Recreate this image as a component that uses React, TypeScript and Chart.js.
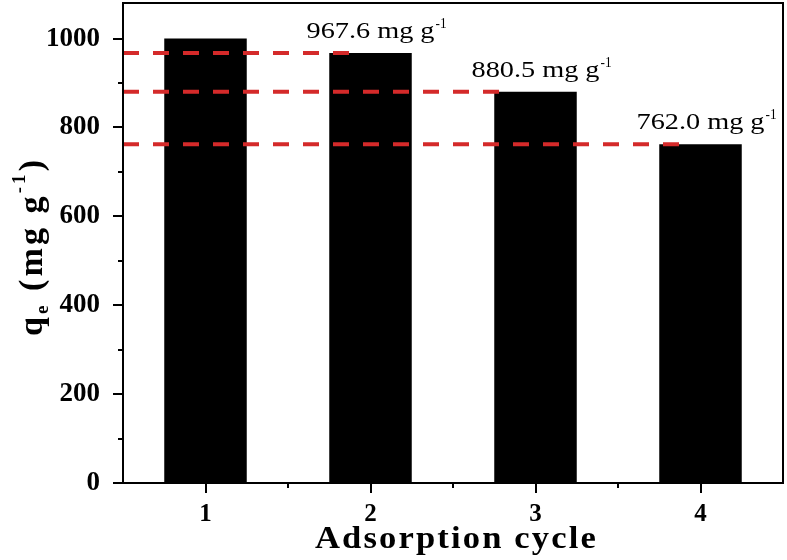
import React, { useEffect, useRef } from "react";
import { Chart, registerables } from "chart.js";

Chart.register(...registerables);

const cycles = [1, 2, 3, 4];
const capacity = [1000, 967.6, 880.5, 762.0];
const refLevels = [967.6, 880.5, 762.0];
const refLineEnds = [1.92, 2.86, 3.95];
const annotValues = ["967.6", "880.5", "762.0"];
const annotCycles = [2, 3, 4];
const yMajorTicks = [0, 200, 400, 600, 800, 1000];
const yMinorTicks = [100, 300, 500, 700, 900];
const xMinorTicks = [1.5, 2.5, 3.5];

const SERIF = '"Liberation Serif", "Times New Roman", serif';

// draw a string with per-character spacing so that it spans targetW
function drawSpaced(ctx: any, parts: [string, string, number][], targetW: number) {
  let natural = 0;
  let n = 0;
  for (const [t, f] of parts) {
    ctx.font = f;
    natural += ctx.measureText(t).width;
    n += t.length;
  }
  const sp = (targetW - natural) / Math.max(1, n - 1);
  let x = 0;
  for (const [t, f, dy] of parts) {
    ctx.font = f;
    for (const ch of t) {
      ctx.fillText(ch, x, dy);
      x += ctx.measureText(ch).width + sp;
    }
  }
}

const decorPlugin = {
  id: "decor",
  afterDraw(chart: any) {
    const ctx = chart.ctx;
    const { left, right, top, bottom } = chart.chartArea;
    const xs = chart.scales.x;
    const ys = chart.scales.y;
    ctx.save();
    // frame
    ctx.strokeStyle = "#000";
    ctx.lineWidth = 2;
    ctx.strokeRect(left, top, right - left, bottom - top);
    // ticks
    ctx.beginPath();
    for (const v of yMajorTicks) {
      const y = Math.round(ys.getPixelForValue(v));
      ctx.moveTo(left, y);
      ctx.lineTo(left - 10, y);
    }
    for (const v of yMinorTicks) {
      const y = Math.round(ys.getPixelForValue(v));
      ctx.moveTo(left, y);
      ctx.lineTo(left - 5, y);
    }
    for (const v of cycles) {
      const x = Math.round(xs.getPixelForValue(v));
      ctx.moveTo(x, bottom);
      ctx.lineTo(x, bottom + 10);
    }
    for (const v of xMinorTicks) {
      const x = Math.round(xs.getPixelForValue(v));
      ctx.moveTo(x, bottom);
      ctx.lineTo(x, bottom + 5);
    }
    ctx.stroke();

    // annotations
    ctx.fillStyle = "#000";
    ctx.textBaseline = "alphabetic";
    ctx.textAlign = "left";
    annotValues.forEach((txt, i) => {
      const main = txt + " mg g";
      const x0 = xs.getPixelForValue(annotCycles[i]) - 64;
      const by = ys.getPixelForValue(refLevels[i]) - 15;
      ctx.font = `23px ${SERIF}`;
      const w = ctx.measureText(main).width;
      ctx.save();
      ctx.translate(x0, by);
      ctx.scale(128 / w, 1);
      ctx.fillText(main, 0, 0);
      ctx.restore();
      ctx.save();
      ctx.translate(x0 + 129, by - 10);
      ctx.font = `14px ${SERIF}`;
      const ws = ctx.measureText("-1").width;
      ctx.scale(11 / ws, 1);
      ctx.fillText("-1", 0, 0);
      ctx.restore();
    });
    ctx.restore();

    // x title
    ctx.save();
    ctx.fillStyle = "#000";
    ctx.textBaseline = "alphabetic";
    ctx.textAlign = "left";
    ctx.translate(315, 548);
    ctx.scale(1.08, 1);
    drawSpaced(ctx, [["Adsorption cycle", `bold 32px ${SERIF}`, 0]], 283 / 1.08 - 2);
    ctx.restore();

    // y title (rotated)
    ctx.save();
    ctx.fillStyle = "#000";
    ctx.textBaseline = "alphabetic";
    ctx.textAlign = "left";
    ctx.translate(42, 336);
    ctx.rotate(-Math.PI / 2);
    const bigF = `bold 34px ${SERIF}`;
    const smallF = `bold 19px ${SERIF}`;
    drawSpaced(
      ctx,
      [
        ["q", bigF, 0],
        ["e", smallF, 6],
        [" (mg g", bigF, 0],
        ["-1", smallF, -17],
        [")", bigF, 0],
      ],
      176
    );
    ctx.restore();
  },
};

export default function App() {
  const ref = useRef<HTMLCanvasElement>(null);
  useEffect(() => {
    document.body.style.margin = "0";
    const canvas = ref.current!;
    const lineSets = refLevels.map((lv, i) => ({
      type: "line" as const,
      data: [
        { x: 0.5, y: lv },
        { x: refLineEnds[i], y: lv },
      ],
      borderColor: "#d42a2a",
      borderWidth: 4,
      borderDash: [16, 14],
      pointRadius: 0,
      fill: false,
      order: 0,
    }));
    const chart = new Chart(canvas, {
      type: "bar",
      data: {
        datasets: [
          {
            type: "bar",
            data: cycles.map((c, i) => ({ x: c, y: capacity[i] })),
            backgroundColor: "#000",
            borderWidth: 0,
            barPercentage: 0.5,
            categoryPercentage: 1,
            order: 1,
          } as any,
          ...lineSets,
        ],
      },
      options: {
        responsive: false,
        animation: false,
        layout: { padding: { top: 3, right: 4, left: 0, bottom: 0 } },
        plugins: {
          legend: { display: false },
          tooltip: { enabled: false },
        },
        scales: {
          x: {
            type: "linear",
            min: 0.5,
            max: 4.5,
            offset: false,
            grid: { display: false, offset: false },
            border: { display: false },
            afterBuildTicks: (s: any) => {
              s.ticks = cycles.map((v) => ({ value: v }));
            },
            afterFit: (s: any) => {
              s.height = 77;
              s.paddingLeft = 0;
              s.paddingRight = 0;
            },
            ticks: {
              padding: 9,
              color: "#000",
              font: { family: SERIF, size: 25, weight: "bold" },
              callback: (v: any) => String(v),
            },
          },
          y: {
            type: "linear",
            min: 0,
            max: 1080,
            grid: { display: false },
            border: { display: false },
            afterBuildTicks: (s: any) => {
              s.ticks = yMajorTicks.map((v) => ({ value: v }));
            },
            afterFit: (s: any) => {
              s.width = 123;
              s.paddingTop = 0;
              s.paddingBottom = 0;
            },
            ticks: {
              padding: 15,
              color: "#000",
              font: { family: SERIF, size: 27, weight: "bold" },
              callback: (v: any) => String(v),
            },
          },
        },
      },
      plugins: [decorPlugin],
    });
    return () => chart.destroy();
  }, []);
  return (
    <div style={{ width: 787, height: 560 }}>
      <canvas ref={ref} width={787} height={560} />
    </div>
  );
}
